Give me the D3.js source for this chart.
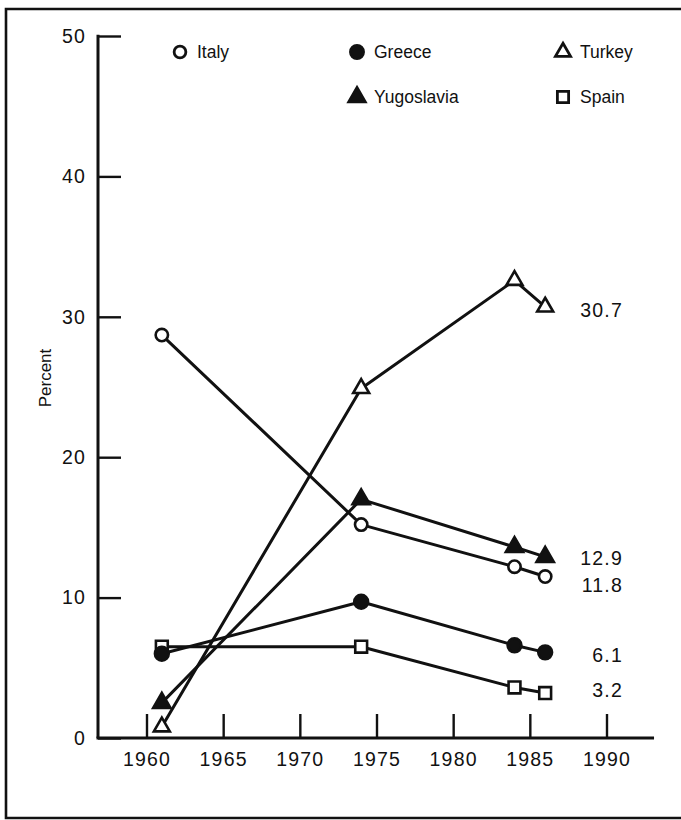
<!DOCTYPE html>
<html>
<head>
<meta charset="utf-8">
<script src="https://cdn.jsdelivr.net/npm/d3@7"></script>
<style>
  html, body { margin: 0; padding: 0; background: #fff; }
  svg { display: block; }
  text { font-family: "Liberation Sans", Arial, Helvetica, sans-serif; fill: #111; }
</style>
</head>
<body>
<svg id="chart" width="681" height="820"></svg>
<script>
// ---------------- data ----------------
const years = [1961, 1974, 1984, 1986];
const italy = [28.7, 15.2, 12.2, 11.5];
const greece = [6.0, 9.7, 6.6, 6.1];
const turkey = [0.8, 24.9, 32.6, 30.7];
const yugoslavia = [2.5, 17.0, 13.6, 12.9];
const spain = [6.5, 6.5, 3.6, 3.2];
const seriesNames = ["Italy", "Greece", "Turkey", "Yugoslavia", "Spain"];
const endLabels = ["11.8", "6.1", "30.7", "12.9", "3.2"];
const xTicks = [1960, 1965, 1970, 1975, 1980, 1985, 1990];
const yTicks = [0, 10, 20, 30, 40, 50];
const yTitle = "Percent";

// ---------------- setup ----------------
const svg = d3.select("#chart");
const ink = "#111";

const x = d3.scaleLinear().domain([1960, 1990]).range([146.5, 606.5]);
const y = d3.scaleLinear().domain([0, 50]).range([738, 36]);

// frame
svg.append("path")
  .attr("d", "M700,9 L6,9 L6,818 L700,818")
  .attr("fill", "none").attr("stroke", ink).attr("stroke-width", 2.6);

// marker styles
const markerDef = {
  Italy:      { type: d3.symbolCircle,   size: 120, fill: "#fff" },
  Greece:     { type: d3.symbolCircle,   size: 150, fill: ink },
  Turkey:     { type: d3.symbolTriangle, size: 110, fill: "#fff" },
  Yugoslavia: { type: d3.symbolTriangle, size: 130, fill: ink },
  Spain:      { type: d3.symbolSquare,   size: 140, fill: "#fff" }
};
const valuesByName = { Italy: italy, Greece: greece, Turkey: turkey, Yugoslavia: yugoslavia, Spain: spain };

// axes
const xAxis = d3.axisBottom(x).tickValues(xTicks).tickSize(-24).tickPadding(10).tickFormat(d3.format("d"));
const gx = svg.append("g").attr("transform", `translate(0,${y(0)})`).call(xAxis);
gx.select(".domain").remove();
gx.selectAll(".tick line").attr("stroke", ink).attr("stroke-width", 2.4);
gx.selectAll(".tick text").attr("font-size", 19.5).attr("letter-spacing", 1.2).attr("fill", ink)
  .attr("font-family", "Liberation Sans, Arial, sans-serif").attr("dy", "0.9em");

const axisX0 = x(1960) - 48.5;
const yAxis = d3.axisLeft(y).tickValues(yTicks).tickSize(-23).tickPadding(12);
const gy = svg.append("g").attr("transform", `translate(${axisX0},0)`).call(yAxis);
gy.select(".domain").remove();
gy.selectAll(".tick line").attr("stroke", ink).attr("stroke-width", 2.4);
gy.selectAll(".tick text").attr("font-size", 19.5).attr("letter-spacing", 1.2).attr("fill", ink)
  .attr("font-family", "Liberation Sans, Arial, sans-serif");

// axis lines
svg.append("line").attr("x1", axisX0).attr("x2", axisX0).attr("y1", y(50) - 1.2).attr("y2", y(0))
  .attr("stroke", ink).attr("stroke-width", 3);
svg.append("line").attr("x1", axisX0 - 1.5).attr("x2", x(1993.1)).attr("y1", y(0)).attr("y2", y(0))
  .attr("stroke", ink).attr("stroke-width", 3.2);

// y title
svg.append("text")
  .attr("transform", `translate(51,${y(25) - 9}) rotate(-90)`)
  .attr("text-anchor", "middle").attr("font-size", 17).attr("fill", ink).text(yTitle);

// lines
const line = d3.line().x((d, i) => x(years[i])).y(d => y(d));
const drawOrder = ["Italy", "Turkey", "Yugoslavia", "Spain", "Greece"];
drawOrder.forEach(name => {
  svg.append("path").datum(valuesByName[name]).attr("d", line)
    .attr("fill", "none").attr("stroke", ink).attr("stroke-width", 3)
    .attr("stroke-linejoin", "round");
});

// markers
drawOrder.forEach(name => {
  const m = markerDef[name];
  const sym = d3.symbol().type(m.type).size(m.size);
  svg.selectAll(null).data(valuesByName[name]).enter().append("path")
    .attr("d", sym)
    .attr("transform", (d, i) => `translate(${x(years[i])},${y(d)})`)
    .attr("fill", m.fill).attr("stroke", ink).attr("stroke-width", 2.6)
    .attr("stroke-linejoin", "miter");
});

// end labels
const labelNudge = { Italy: 13, Greece: 3, Turkey: 3, Yugoslavia: 1, Spain: -3 };
seriesNames.forEach((name, i) => {
  svg.append("text")
    .attr("x", 623).attr("y", y(+endLabels[i]) + labelNudge[name])
    .attr("dy", "0.35em").attr("text-anchor", "end")
    .attr("font-size", 19.5).attr("letter-spacing", 1.2)
    .text(endLabels[i]);
});

// legend
const legendCols = [180, 357, 563];
const legendRows = [52, 97];
const legendPos = { Italy: [0, 0], Greece: [1, 0], Turkey: [2, 0], Yugoslavia: [1, 1], Spain: [2, 1] };
seriesNames.forEach(name => {
  const [c, r] = legendPos[name];
  const m = markerDef[name];
  const g = svg.append("g").attr("transform", `translate(${legendCols[c]},${legendRows[r]})`);
  g.append("path").attr("d", d3.symbol().type(m.type).size(m.size * 0.9))
    .attr("fill", m.fill).attr("stroke", ink).attr("stroke-width", 2.8);
  g.append("text").attr("x", 17).attr("dy", "0.36em").attr("font-size", 17.5).text(name);
});
</script>
</body>
</html>
